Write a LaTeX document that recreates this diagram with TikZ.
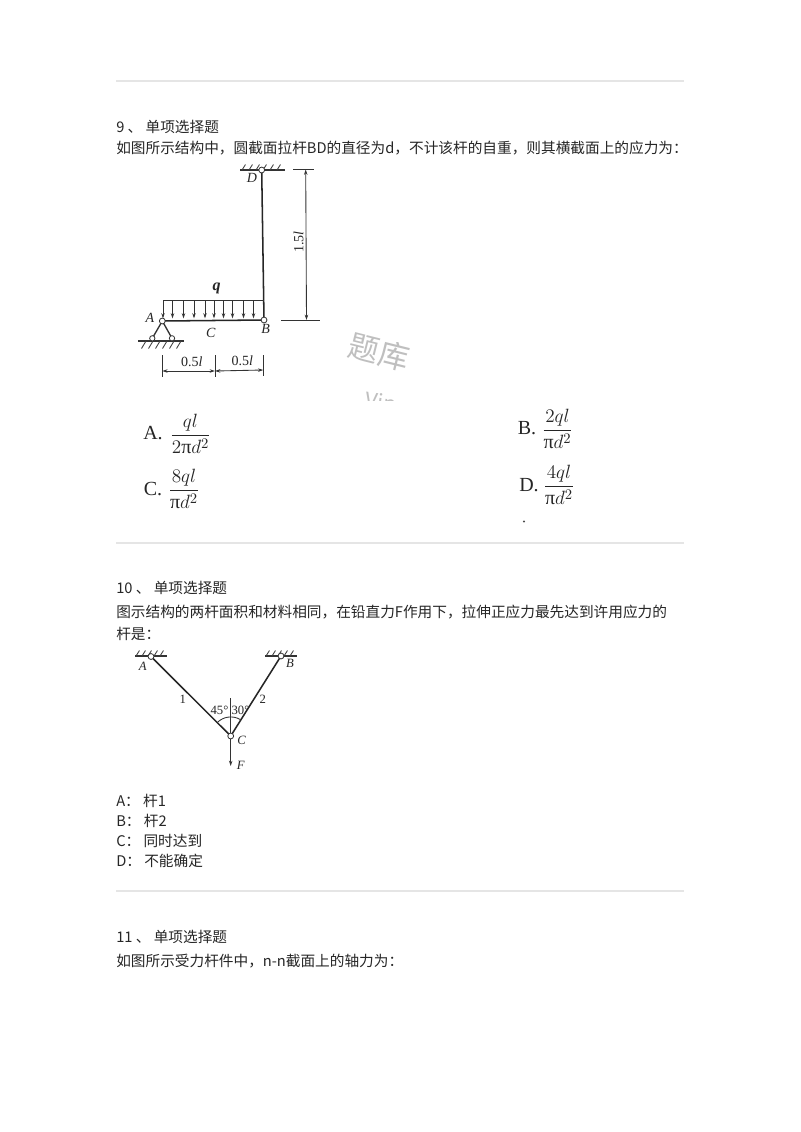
\documentclass[tikz,border=0pt]{standalone}
\usepackage{amsmath}
\usepackage{fontspec}
\setmainfont{Noto Sans CJK SC}
\newfontfamily\cjkfont{Noto Sans CJK SC}
\newfontfamily\serf{Liberation Serif}
\usetikzlibrary{arrows.meta}
\newcommand{\hatchup}[2]{\foreach \hx in {#1}{\draw[hatchline] (\hx,#2) -- ++(3.5,-5.5);}}
\newcommand{\hatchdn}[2]{\foreach \hx in {#1}{\draw[hatchline] (\hx,#2) -- ++(-4.5,7.5);}}
\newcommand{\tp}{\text{\serf π}}
\tikzset{
  txt/.style={anchor=base west,inner sep=0pt,text=black!85,font=\fontsize{11}{13}\selectfont},
  rulel/.style={draw=black!10,line width=0.8pt},
  barl/.style={draw=black!85,line width=1.15pt},
  thinl/.style={draw=black!80,line width=0.65pt},
  hatchline/.style={draw=black!75,line width=0.65pt},
  pinc/.style={circle,draw=black!80,fill=white,line width=0.6pt,inner sep=0pt,minimum size=4.4pt},
  lab/.style={inner sep=0pt,text=black!85,font=\fontsize{10.5}{12}\selectfont\serf\itshape},
  labs/.style={inner sep=0pt,text=black!85,font=\fontsize{9.5}{11}\selectfont\serf\itshape},
  labr/.style={inner sep=0pt,text=black!85,font=\fontsize{9.5}{11}\selectfont\serf},
  labd/.style={inner sep=0pt,text=black!85,font=\fontsize{10.5}{13}\selectfont\serf},
  tipa/.style={-{Stealth[length=4pt,width=2.6pt]}},
  tipb/.style={{Stealth[length=4pt,width=2.6pt]}-{Stealth[length=4pt,width=2.6pt]}},
  opt/.style={inner sep=0pt,text=black!85,font=\fontsize{15}{17}\selectfont\serf},
  fracn/.style={inner sep=0pt,text=black!85,font=\fontsize{15}{17}\selectfont},
  wmark/.style={inner sep=0pt,text=black!25,font=\fontsize{23}{26}\selectfont\cjkfont}
}
\begin{document}
\begin{tikzpicture}[x=0.75pt,y=-0.75pt]
\useasboundingbox (0,0) rectangle (800,1132);
\fill[white] (0,0) rectangle (800,1132);
% separators
\coordinate (r1a) at (116,81); \coordinate (r1b) at (684,81);
\coordinate (r2a) at (116,543); \coordinate (r2b) at (684,543);
\coordinate (r3a) at (116,891); \coordinate (r3b) at (684,891);
\draw[rulel] (r1a) -- (r1b);
\draw[rulel] (r2a) -- (r2b);
\draw[rulel] (r3a) -- (r3b);
% texts
\node[txt] (t9) at (116,132) {9 、 单项选择题};
\node[txt] (t9b) at (116,153) {如图所示结构中，圆截面拉杆BD的直径为d，不计该杆的自重，则其横截面上的应力为：};
\node[txt] (t10) at (116,593) {10 、 单项选择题};
\node[txt] (t10b) at (116,617) {图示结构的两杆面积和材料相同，在铅直力F作用下，拉伸正应力最先达到许用应力的};
\node[txt] (t10c) at (116,639) {杆是：};
\node[txt] (oa) at (116,806) {A： 杆1};
\node[txt] (ob) at (116,826) {B： 杆2};
\node[txt] (oc) at (116,846) {C： 同时达到};
\node[txt] (od) at (116,866) {D： 不能确定};
\node[txt] (t11) at (116,942) {11 、 单项选择题};
\node[txt] (t11b) at (116,966) {如图所示受力杆件中，n-n截面上的轴力为：};
% watermark
\node[wmark,rotate=-14] (wm) at (379,352) {题库};
\begin{scope}
\clip (340,388) rectangle (420,400.5);
\node[wmark,rotate=-8,font=\fontsize{16}{19}\selectfont\cjkfont] (wmv) at (381,404) {Vip};
\end{scope}
% figure 1: members
\coordinate (cl1) at (240,170); \coordinate (cl2) at (285,170);
\coordinate (gl1) at (138,341); \coordinate (gl2) at (184,341);
\coordinate (DD) at (261.7,170); \coordinate (BB) at (264,320); \coordinate (AA) at (162.3,321);
\coordinate (SL) at (152.3,338.3); \coordinate (SR) at (172,338.3);
\draw[thinl,line width=0.9pt] (cl1) -- (cl2);
\hatchup{242,249,...,278}{170}
\draw[thinl,line width=0.9pt] (gl1) -- (gl2);
\hatchdn{146,153,...,182}{341}
\draw[barl] (DD) -- (BB);
\draw[barl] (AA) -- (BB);
\draw[thinl,line width=1pt] (SL) -- (AA) -- (SR);
\node[pinc] (D) at (DD) {};
\node[pinc] (B) at (BB) {};
\node[pinc] (A) at (AA) {};
\node[pinc,minimum size=4pt] (S1) at (SL) {};
\node[pinc,minimum size=4pt] (S2) at (SR) {};
% load
\coordinate (q1) at (163,300); \coordinate (q2) at (264,300);
\draw[thinl] (q1) -- (q2);
\foreach \qx in {163,172.5,183.5,194,205,214,223.5,232.5,243.5,253.5}{
  \draw[thinl,tipa] (\qx,300) -- (\qx,318.5);
}
% vertical dimension
\coordinate (h1a) at (293,169.5); \coordinate (h1b) at (314,169.5);
\coordinate (h2a) at (281,320); \coordinate (h2b) at (320,320);
\coordinate (h3a) at (305.7,169.5); \coordinate (h3b) at (306.5,320);
\draw[thinl] (h1a) -- (h1b);
\draw[thinl] (h2a) -- (h2b);
\draw[thinl,tipb] (h3a) -- (h3b);
\node[labd,rotate=90] (l15) at (298.5,242) {1.5\textit{l}};
% horizontal dimension
\coordinate (v1a) at (162.3,355); \coordinate (v1b) at (162.3,377);
\coordinate (v2a) at (215,355); \coordinate (v2b) at (215,377);
\coordinate (v3a) at (263.3,355); \coordinate (v3b) at (263.3,376);
\coordinate (d1) at (162.3,371); \coordinate (d2) at (215,371); \coordinate (d3) at (263.3,370);
\draw[thinl] (v1a) -- (v1b);
\draw[thinl] (v2a) -- (v2b);
\draw[thinl] (v3a) -- (v3b);
\draw[thinl,tipb] (d1) -- (d2);
\draw[thinl,tipb] (d2) -- (d3);
\node[labd] (l05a) at (191.7,361.5) {0.5\textit{l}};
\node[labd] (l05b) at (242.3,360.5) {0.5\textit{l}};
\node[lab,font=\fontsize{12}{14}\selectfont\serf\itshape\bfseries] (lq) at (216.7,288) {q};
\node[lab] (lA) at (150,318) {A};
\node[lab] (lB) at (265.7,328.5) {B};
\node[lab] (lC) at (210.7,333) {C};
\node[lab] (lD) at (252,178) {D};
% options
\node[opt] (ao) at (153,433) {A.};
\node[fracn] (af) at (190.5,434) {$\displaystyle\frac{ql}{2\tp d^2}$};
\node[opt] (bo) at (527,428) {B.};
\node[fracn] (bf) at (557.5,429) {$\displaystyle\frac{2ql}{\tp d^2}$};
\node[opt] (co) at (153,489) {C.};
\node[fracn] (cf) at (184,489) {$\displaystyle\frac{8ql}{\tp d^2}$};
\node[opt] (do) at (529,485) {D.};
\node[fracn] (df) at (559,485) {$\displaystyle\frac{4ql}{\tp d^2}$};
\coordinate (dot) at (524,521.5);
\fill[black!70] (dot) circle (0.8pt);
% figure 2
\coordinate (PA) at (151,656.5); \coordinate (PB) at (281,656); \coordinate (PC) at (230.7,736);
\coordinate (ca1) at (135,656); \coordinate (ca2) at (167,656);
\coordinate (cb1) at (265,656); \coordinate (cb2) at (297,656);
\coordinate (up) at (230.7,698); \coordinate (Fe) at (230.7,766);
\draw[thinl,line width=0.9pt] (ca1) -- (ca2);
\draw[thinl,line width=0.9pt] (cb1) -- (cb2);
\hatchup{136,142,...,164}{656}
\hatchup{266,272,...,294}{656}
\draw[barl] (PA) -- (PC);
\draw[barl] (PB) -- (PC);
\draw[thinl] (up) -- (PC);
\draw[thinl,tipa,line width=0.9pt] (PC) -- (Fe);
\draw[thinl] (217.3,722.5) arc[start angle=225,end angle=300,radius=19];
\node[pinc] (nA) at (PA) {};
\node[pinc] (nB) at (PB) {};
\node[pinc] (nC) at (PC) {};
\node[labs] (fA) at (142.7,666) {A};
\node[labs] (fB) at (290,663) {B};
\node[labs] (fC) at (241.7,740.7) {C};
\node[labs] (fF) at (240.7,765) {F};
\node[labr] (f1) at (182.7,699) {1};
\node[labr] (f2) at (262.7,699) {2};
\node[labr] (a45) at (219.5,710.7) {45°};
\node[labr] (a30) at (240.5,710) {30°};
\end{tikzpicture}
\end{document}
